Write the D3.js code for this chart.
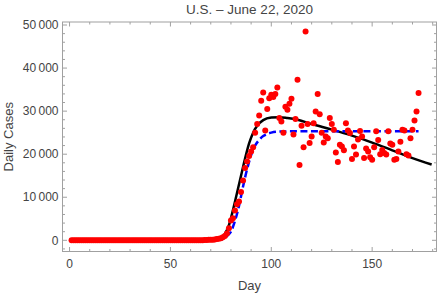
<!DOCTYPE html>
<html lang="en">
<head>
    <meta charset="UTF-8">
    <title>U.S. daily cases</title>
    <script src="https://d3js.org/d3.v7.min.js"></script>
    <style>
        body { margin: 0; background: white; }
        text { font-family: "Liberation Sans", Arial, sans-serif; fill: #444; }
        .frame { fill: none; stroke: #a0a0a0; stroke-width: 1; }
        .tick { stroke: #a0a0a0; stroke-width: 1; }
        .case { fill: #ff0000; }
    </style>
</head>
<body>
<svg height="295" width="440"></svg>

<script>
    const svg = d3.select("svg");

    // daily case counts, one per day starting at day 1
    const firstDay = 1;
    const cases = [
        0, 0, 0, 0, 0, 0, 0, 0, 0, 0,
        0, 0, 0, 0, 0, 0, 0, 0, 0, 0,
        0, 0, 0, 0, 0, 0, 0, 0, 0, 0,
        0, 0, 0, 0, 0, 0, 0, 0, 0, 0,
        0, 0, 0, 0, 0, 0, 0, 0, 0, 0,
        0, 0, 0, 0, 0, 0, 0, 0, 0, 0,
        5, 10, 15, 20, 30, 40, 60, 80, 100, 120,
        150, 200, 280, 380, 500, 700, 1000, 1600, 2800, 4600,
        5100, 6900, 8400, 9000, 11200, 13900, 16800, 18300, 19600, 20600,
        21600, 25000, 27000, 29000, 32400, 34300, 25500, 30500, 33000, 33800,
        33300, 34000, 35500, 28400, 27600, 25000, 31000, 30300, 31700, 32900,
        24600, 28200, 37300, 17500, 26600, 21600, 48500, 27000, 22600, 24100,
        27200, 29900, 34000, 29300, 25000, 22700, 24100, 23700, 28400, 27000,
        25700, 20400, 18200, 22200, 21800, 20900, 27200, 25500, 24900, 18900,
        21800, 19900, 23400, 25400, 24100, 19100, 21300, 20600, 19300, 18700,
        21600, 25300, 23300, 20000, 21000, 20300, 19900, 25300, 22500, 22200,
        18700, 18900, 20600, 22900, 25700, 25500, 20000, 19700, 23700, 25700,
        27800, 29900, 34200
    ];

    // black fitted curve
    const fitDays = [0, 60, 70, 72, 75, 77, 79, 81, 83, 85, 87, 89, 91, 93, 96, 100, 104, 108, 113, 120, 130, 140, 150, 160, 170, 179.5];
    const fitVals = [0, 0, 30, 100, 500, 1500, 3500, 7000, 11000, 15000, 19000, 22500, 25000, 26600, 27900, 28500, 28600, 28400, 28000, 27000, 25700, 24300, 22700, 20900, 19100, 17600];

    // blue dashed logistic curve
    const logDays = [0, 60, 70, 75, 78, 80, 82, 84, 86, 88, 90, 92, 94, 96, 98, 100, 104, 110, 173];
    const logVals = [0, 0, 20, 200, 1000, 2000, 4500, 8000, 12500, 16500, 19800, 22000, 23300, 24200, 24700, 25000, 25250, 25300, 25300];

    const xMajor = [0, 50, 100, 150];
    const yMajor = [0, 10000, 20000, 30000, 40000, 50000];
    const yLabels = ["0", "10\u2009000", "20\u2009000", "30\u2009000", "40\u2009000", "50\u2009000"];

    const plotL = 62.5, plotR = 436.5, plotT = 22, plotB = 251.5;

    const x = d3.scaleLinear().domain([-3.5, 181.9]).range([plotL, plotR]);
    const y = d3.scaleLinear().domain([-2600, 50700]).range([plotB, plotT]);

    // ticks: minor and major on all four sides
    const xMinor = d3.range(0, 181, 10).filter(d => xMajor.indexOf(d) < 0);
    const yMinor = d3.range(-2000, 50001, 2000).filter(d => yMajor.indexOf(d) < 0);

    function vTicks(vals, len) {
        vals.forEach(v => {
            svg.append("line").attr("class", "tick")
               .attr("x1", x(v)).attr("x2", x(v)).attr("y1", plotB).attr("y2", plotB - len);
            svg.append("line").attr("class", "tick")
               .attr("x1", x(v)).attr("x2", x(v)).attr("y1", plotT).attr("y2", plotT + len);
        });
    }
    function hTicks(vals, len) {
        vals.forEach(v => {
            svg.append("line").attr("class", "tick")
               .attr("y1", y(v)).attr("y2", y(v)).attr("x1", plotL).attr("x2", plotL + len);
            svg.append("line").attr("class", "tick")
               .attr("y1", y(v)).attr("y2", y(v)).attr("x1", plotR).attr("x2", plotR - len);
        });
    }
    vTicks(xMajor, 4.5);
    vTicks(xMinor, 2.5);
    hTicks(yMajor, 4.5);
    hTicks(yMinor, 2.5);

    svg.append("rect").attr("class", "frame")
       .attr("x", plotL).attr("y", plotT)
       .attr("width", plotR - plotL).attr("height", plotB - plotT);

    // tick labels
    svg.selectAll("text.xl")
       .data(xMajor)
          .join("text").attr("class", "xl")
            .attr("x", d => x(d)).attr("y", 267.5)
            .attr("text-anchor", "middle")
            .style("font-size", "12px")
            .text(d => d);

    svg.selectAll("text.yl")
       .data(yMajor)
          .join("text").attr("class", "yl")
            .attr("x", 58.5).attr("y", d => y(d) + 4.2)
            .attr("text-anchor", "end")
            .style("font-size", "12px")
            .text((d, i) => yLabels[i]);

    // titles
    svg.append("text")
       .attr("x", (plotL + plotR) / 2).attr("y", 14)
       .attr("text-anchor", "middle")
       .style("font-size", "13.5px")
       .text("U.S. \u2013 June 22, 2020");

    svg.append("text")
       .attr("x", (plotL + plotR) / 2).attr("y", 290)
       .attr("text-anchor", "middle")
       .style("font-size", "13px")
       .text("Day");

    svg.append("text")
       .attr("transform", "translate(13," + (plotT + plotB) / 2 + ") rotate(-90)")
       .attr("text-anchor", "middle")
       .style("font-size", "13px")
       .text("Daily Cases");

    // curves
    const line = d3.line()
        .x(d => x(d[0]))
        .y(d => y(d[1]))
        .curve(d3.curveMonotoneX);

    svg.append("path")
       .datum(fitDays.map((d, i) => [d, fitVals[i]]))
          .attr("d", line)
          .style("fill", "none")
          .style("stroke", "black")
          .style("stroke-width", 2.5);

    svg.append("path")
       .datum(logDays.map((d, i) => [d, logVals[i]]))
          .attr("d", line)
          .style("fill", "none")
          .style("stroke", "#0000ff")
          .style("stroke-width", 2.5)
          .style("stroke-dasharray", "7,3.5");

    // points
    svg.selectAll("circle.case")
       .data(cases)
          .join("circle").attr("class", "case")
            .attr("cx", (d, i) => x(firstDay + i))
            .attr("cy", d => y(d))
            .attr("r", 3);
</script>

</body>
</html>
